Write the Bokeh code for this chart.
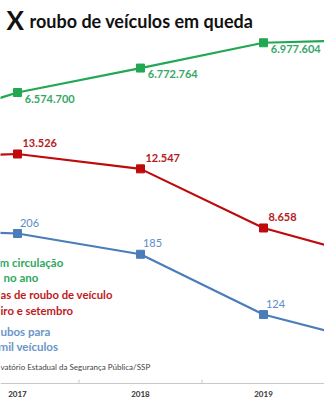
from bokeh.plotting import figure
from bokeh.models import Range1d
from bokeh.core.properties import value
from bokeh.embed import file_html
from bokeh.resources import INLINE

# ---- data ----
years = [2016, 2017, 2018, 2019, 2020]
frota = [6261000, 6574700, 6772764, 6977604, 7005000]
roubos = [13250, 13526, 12547, 8658, 6430]
taxa = [211, 206, 185, 124, 92]
label_years = [2017, 2018, 2019]
frota_labels = ["6.574.700", "6.772.764", "6.977.604"]
roubos_labels = ["13.526", "12.547", "8.658"]
taxa_labels = ["206", "185", "124"]
tick_labels = ["2017", "2018", "2019"]

W, H = 324, 400
FONT = value("Lato")
GREEN, GREEN_T = "#22A852", "#35A865"
RED, RED_T = "#BE0A0A", "#B41C1C"
BLUE, BLUE_T = "#4A7DBA", "#5E8CC4"

p = figure(width=W, height=H, output_backend="svg", toolbar_location=None,
           x_range=Range1d(2016.862, 2019.496), y_range=Range1d(0, 400),
           x_axis_location=None, y_axis_location=None, min_border=0)
p.outline_line_color = None
p.grid.visible = False
p.background_fill_color = "white"
p.border_fill_color = "white"
p.extra_x_ranges = {"px": Range1d(0, W)}
p.extra_y_ranges = {
    "px": Range1d(H, 0),
    "frota": Range1d(4079900, 7319900),
    "roubos": Range1d(-2694, 23626),
    "taxa": Range1d(37, 441.8),
}

def series(vals, rng, color, labels, tcolor, dy_px, dx, bold, scale):
    p.line(years, vals, y_range_name=rng, line_color=color, line_width=2.2)
    p.scatter(years[1:4], vals[1:4], y_range_name=rng, marker="square", size=8,
              fill_color=color, line_color=color)
    p.text([y + dx for y in label_years], [v + dy_px * scale for v in vals[1:4]],
           text=labels, y_range_name=rng, text_color=tcolor, text_font=FONT,
           text_font_size="11px", text_font_style="bold" if bold else "normal",
           text_baseline="middle", text_align="left")

series(frota, "frota", GREEN, frota_labels, GREEN_T, -6, 0.06, True, 8100)
series(roubos, "roubos", RED, roubos_labels, RED_T, 11, 0.04, True, 65.8)
series(taxa, "taxa", BLUE, taxa_labels, BLUE_T, 11, 0.02, False, 1.012)

# axis line and category separators
p.segment(x0=[0], y0=[383], x1=[W], y1=[383], x_range_name="px", y_range_name="px",
          line_color="#C8C8C8", line_width=1)
p.segment(x0=[2017.5, 2018.5], y0=[383, 383], x1=[2017.5, 2018.5], y1=[379, 379],
          y_range_name="px", line_color="#C8C8C8", line_width=1)
p.text(label_years, [393] * 3, text=tick_labels, y_range_name="px",
       text_font=FONT, text_font_size="8px", text_font_style="bold",
       text_color="#333333", text_align="center", text_baseline="middle")

def t(x, y, s, size, color, bold=True):
    p.text([x], [y], text=[s], x_range_name="px", y_range_name="px",
           text_font=FONT, text_font_size=size, text_color=color,
           text_font_style="bold" if bold else "normal",
           text_baseline="middle", text_align="left")

# title
t(6, 19, "X", "26px", "#111111")
t(29, 20, "roubo de veículos em queda", "18px", "#111111")

# legend texts (cropped at the left edge)
t(-1, 262, "m circulação", "11.5px", "#2FA85E")
t(3, 277, "no ano", "11.5px", "#2FA85E")
t(0, 294, "as de roubo de veículo", "11.3px", "#BE1A1E")
t(0, 310, "iro e setembro", "11.3px", "#BE1A1E")
t(0, 331, "ubos para", "11.5px", "#6A95C8")
t(-2, 346, "mil veículos", "11.5px", "#6A95C8")
t(0, 366, "vatório Estadual da Segurança Pública/SSP", "8px", "#444444", bold=False)

open("out.html", "w").write(file_html(p, INLINE))
